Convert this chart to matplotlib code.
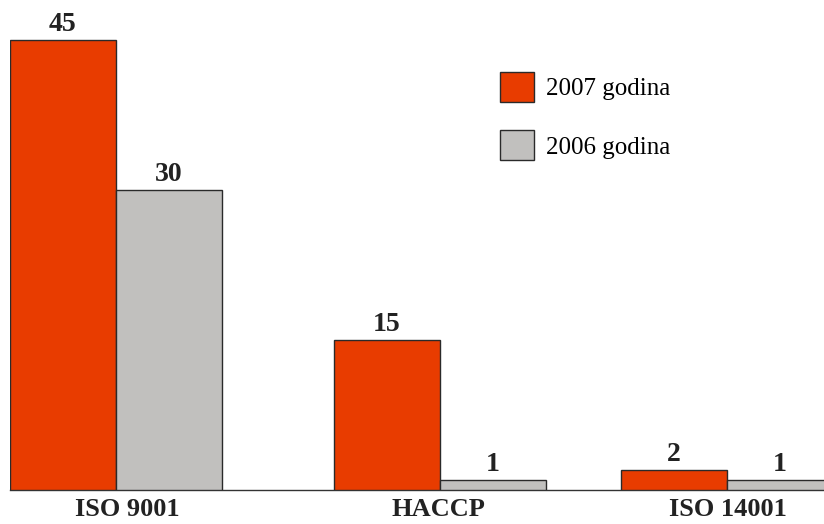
import matplotlib
matplotlib.use("Agg")
import matplotlib.pyplot as plt
from matplotlib.patches import Patch

categories = ["ISO 9001", "HACCP", "ISO 14001"]
series_names = ["2007 godina", "2006 godina"]
values_2007 = [45, 15, 2]
values_2006 = [30, 1, 1]

# layout (group centres, uneven as in the reference)
centers = [0.0, 1.0, 1.886]
label_pos = [0.034, 0.995, 1.888]
w = 0.327
red = "#E83C00"
gray = "#C1C0BE"
edge = "#2a2a2a"

plt.rcParams["font.family"] = ["Liberation Serif", "DejaVu Serif"]

fig = plt.figure(figsize=(8.24, 5.24), dpi=100)
ax = fig.add_axes([10 / 824, 34 / 524, 814 / 824, 490 / 524])
ax.set_xlim(-0.327, 2.185)
ax.set_ylim(0, 49)

x07 = [c - w / 2 for c in centers]
x06 = [c + w / 2 for c in centers]
b1 = ax.bar(x07, values_2007, width=w, color=red, edgecolor=edge, linewidth=1.0, zorder=3)
b2 = ax.bar(x06, values_2006, width=w, color=gray, edgecolor=edge, linewidth=1.0, zorder=3)

for bars, vals in ((b1, values_2007), (b2, values_2006)):
    for r, v in zip(bars, vals):
        ax.annotate(str(v), (r.get_x() + r.get_width() / 2, r.get_height()),
                    xytext=(0, 2.5), textcoords="offset points",
                    ha="center", va="bottom", fontsize=20, fontweight="bold",
                    color="#222222")

for s in ["top", "right", "left"]:
    ax.spines[s].set_visible(False)
ax.spines["bottom"].set_color("#333333")
ax.spines["bottom"].set_linewidth(1.0)
ax.set_yticks([])
ax.set_xticks(label_pos)
ax.set_xticklabels(categories, fontsize=19, fontweight="bold", color="#222222")
ax.tick_params(axis="x", length=0, pad=6)

handles = [Patch(facecolor=red, edgecolor=edge, linewidth=1.0),
           Patch(facecolor=gray, edgecolor=edge, linewidth=1.0)]
fig.legend(handles, series_names, loc="upper left",
           bbox_to_anchor=(500 / 824, 1 - 72 / 524), frameon=False,
           fontsize=18, handlelength=1.36, handleheight=1.45,
           handletextpad=0.5, labelspacing=1.15, borderpad=0, borderaxespad=0)

fig.savefig("out.png", dpi=100)
